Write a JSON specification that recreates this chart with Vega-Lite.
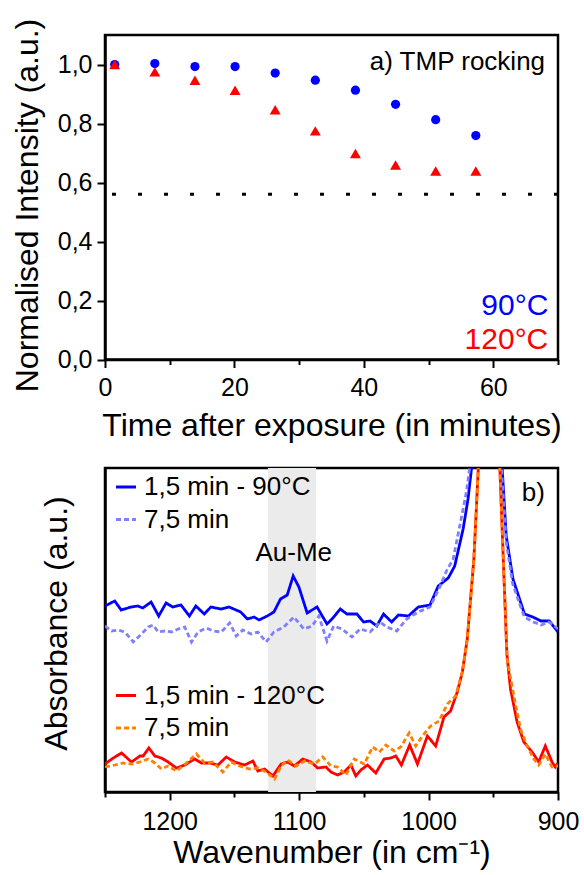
{
  "$schema": "https://vega.github.io/schema/vega-lite/v6.json",
  "background": "white",
  "padding": {"left": 10, "top": 17, "right": 0, "bottom": 0},
  "config": {
    "font": "Liberation Sans",
    "view": {"stroke": "black", "strokeWidth": 2.5},
    "axis": {
      "domainColor": "black", "domainWidth": 2.5, "tickColor": "black", "tickWidth": 2, "tickSize": 8,
      "labelFont": "Liberation Sans", "labelFontSize": 25, "labelColor": "black",
      "titleFont": "Liberation Sans", "titleFontSize": 32, "titleFontWeight": "normal", "titleColor": "black",
      "grid": false, "labelFlush": false, "labelOverlap": false
    },
    "legend": {
      "labelFont": "Liberation Sans", "labelFontSize": 26, "labelColor": "black", "labelLimit": 400,
      "symbolStrokeWidth": 3, "symbolSize": 400, "rowPadding": 6.5, "padding": 0, "labelOffset": 5,
      "symbolType": "stroke"
    },
    "concat": {"spacing": 23}
  },
  "vconcat": [
    {
      "width": 453,
      "height": 324.5,
      "layer": [
        {
          "data": {"name": "scatter"},
          "transform": [{"filter": "datum.temp === '90°C'"}],
          "mark": {"type": "point", "filled": true, "opacity": 1, "size": 85, "shape": "circle"},
          "encoding": {
            "x": {
              "field": "t", "type": "quantitative",
              "scale": {"domain": [0, 70], "nice": false, "zero": false},
              "axis": {
                "title": "Time after exposure (in minutes)",
                "values": [0, 10, 20, 30, 40, 50, 60, 70],
                "labelExpr": "datum.value % 20 === 0 ? datum.label : ''",
                "tickSize": {"condition": {"test": "datum.value % 20 !== 0", "value": 5}, "value": 8},
                "labelFontSize": 25,
                "labelPadding": 8,
                "titleY": 75.7, "titleBaseline": "alphabetic"
              }
            },
            "y": {
              "field": "v", "type": "quantitative",
              "scale": {"domain": [0, 1.1], "nice": false, "zero": false},
              "axis": {
                "title": "Normalised Intensity (a.u.)",
                "values": [0, 0.1, 0.2, 0.3, 0.4, 0.5, 0.6, 0.7, 0.8, 0.9, 1.0, 1.1],
                "labelExpr": "round(datum.value*10) % 2 === 0 ? replace(format(datum.value, '.1f'), '.', ',') : ''",
                "tickSize": {"condition": {"test": "round(datum.value*10) % 2 !== 0", "value": 5}, "value": 8},
                "labelFontSize": 25,
                "labelPadding": 5,
                "titleX": -67.7, "titleY": 170, "titleBaseline": "alphabetic"
              }
            },
            "color": {"field": "temp", "type": "nominal", "scale": {"domain": ["90°C", "120°C"], "range": ["#0000ff", "#ff0000"]}, "legend": null}
          }
        },
        {
          "data": {"name": "scatter"},
          "transform": [{"filter": "datum.temp === '120°C'"}],
          "mark": {"type": "point", "filled": true, "opacity": 1, "size": 120, "shape": "triangle-up"},
          "encoding": {
            "x": {"field": "t", "type": "quantitative"},
            "y": {"field": "v", "type": "quantitative"},
            "color": {"field": "temp", "type": "nominal", "scale": {"domain": ["90°C", "120°C"], "range": ["#0000ff", "#ff0000"]}, "legend": null}
          }
        },
        {
          "data": {"values": [{}]},
          "mark": {"type": "rule", "strokeDash": [4, 22], "strokeWidth": 3, "color": "black"},
          "encoding": {"y": {"datum": 0.56}}
        },
        {
          "data": {"values": [{}]},
          "mark": {"type": "text", "align": "right", "baseline": "alphabetic", "fontSize": 26, "color": "black"},
          "encoding": {"x": {"datum": 68}, "y": {"datum": 0.981}, "text": {"value": "a) TMP rocking"}}
        },
        {
          "data": {"values": [{}]},
          "mark": {"type": "text", "align": "right", "baseline": "alphabetic", "fontSize": 30, "color": "#0000ff"},
          "encoding": {"x": {"datum": 68.5}, "y": {"datum": 0.15}, "text": {"value": "90°C"}}
        },
        {
          "data": {"values": [{}]},
          "mark": {"type": "text", "align": "right", "baseline": "alphabetic", "fontSize": 30, "color": "#ff0000"},
          "encoding": {"x": {"datum": 68.5}, "y": {"datum": 0.034}, "text": {"value": "120°C"}}
        }
      ]
    },
    {
      "width": 453,
      "height": 324,
      "encoding": {
        "x": {
          "type": "quantitative",
          "scale": {"domain": [900, 1250], "reverse": true, "nice": false, "zero": false},
          "axis": {
            "title": "Wavenumber (in cm⁻¹)",
            "values": [900, 950, 1000, 1050, 1100, 1150, 1200, 1250],
            "labelExpr": "datum.value % 100 === 0 ? format(datum.value, 'd') : ''",
            "tickSize": {"condition": {"test": "datum.value % 100 !== 0", "value": 5}, "value": 8},
            "labelFontSize": 25,
            "labelPadding": 9,
            "titleY": 70.3, "titleBaseline": "alphabetic"
          }
        },
        "y": {
          "type": "quantitative",
          "scale": {"domain": [0, 324], "nice": false, "zero": false},
          "axis": {
            "title": "Absorbance (a.u.)", "ticks": false, "labels": false,
            "titleX": -38.7, "titleY": 155, "titleBaseline": "alphabetic"
          }
        }
      },
      "layer": [
        {
          "data": {"values": [{}]},
          "mark": {"type": "rect", "color": "#ebebeb"},
          "encoding": {"x": {"datum": 1124}, "x2": {"datum": 1087}}
        },
        {
          "data": {"name": "spec90"},
          "mark": {"type": "line", "strokeWidth": 2.8, "clip": true},
          "encoding": {
            "x": {"field": "wn", "type": "quantitative"},
            "y": {"field": "a", "type": "quantitative"},
            "color": {"field": "series", "type": "nominal",
              "scale": {"domain": ["1,5 min - 90°C", "7,5 min"], "range": ["#0000ff", "#8080ff"]},
              "legend": {"title": null, "orient": "none", "legendX": 8, "legendY": 6, "labelFontSize": 26, "labelLimit": 400}},
            "strokeDash": {"field": "series", "type": "nominal",
              "scale": {"domain": ["1,5 min - 90°C", "7,5 min"], "range": [[1, 0], [5, 3]]},
              "legend": {"title": null, "orient": "none", "legendX": 8, "legendY": 6, "labelFontSize": 26, "labelLimit": 400}}
          }
        },
        {
          "data": {"name": "spec120"},
          "mark": {"type": "line", "strokeWidth": 2.8, "clip": true},
          "encoding": {
            "x": {"field": "wn", "type": "quantitative"},
            "y": {"field": "a", "type": "quantitative"},
            "color": {"field": "series", "type": "nominal",
              "scale": {"domain": ["1,5 min - 120°C", "7,5 min"], "range": ["#ff0000", "#ff8000"]},
              "legend": {"title": null, "orient": "none", "legendX": 8, "legendY": 214.5, "labelFontSize": 26, "labelLimit": 400}},
            "strokeDash": {"field": "series", "type": "nominal",
              "scale": {"domain": ["1,5 min - 120°C", "7,5 min"], "range": [[1, 0], [5, 3]]},
              "legend": {"title": null, "orient": "none", "legendX": 8, "legendY": 214.5, "labelFontSize": 26, "labelLimit": 400}}
          }
        },
        {
          "data": {"values": [{}]},
          "mark": {"type": "text", "align": "center", "baseline": "alphabetic", "fontSize": 26, "color": "black"},
          "encoding": {"x": {"datum": 1104.2}, "y": {"datum": 231.3}, "text": {"value": "Au-Me"}}
        },
        {
          "data": {"values": [{}]},
          "mark": {"type": "text", "align": "left", "baseline": "alphabetic", "fontSize": 26, "color": "black"},
          "encoding": {"x": {"datum": 928}, "y": {"datum": 291.3}, "text": {"value": "b)"}}
        }
      ],
      "resolve": {
        "scale": {"color": "independent", "strokeDash": "independent"},
        "legend": {"color": "independent", "strokeDash": "independent"}
      }
    }
  ],
  "datasets": {
    "scatter": [
      {"temp": "90°C", "t": 1.5, "v": 1.0},
      {"temp": "90°C", "t": 7.7, "v": 1.003},
      {"temp": "90°C", "t": 13.9, "v": 0.993},
      {"temp": "90°C", "t": 20.1, "v": 0.993},
      {"temp": "90°C", "t": 26.3, "v": 0.971},
      {"temp": "90°C", "t": 32.5, "v": 0.947},
      {"temp": "90°C", "t": 38.7, "v": 0.913},
      {"temp": "90°C", "t": 44.9, "v": 0.865},
      {"temp": "90°C", "t": 51.1, "v": 0.813},
      {"temp": "90°C", "t": 57.3, "v": 0.759},
      {"temp": "120°C", "t": 1.5, "v": 1.0},
      {"temp": "120°C", "t": 7.7, "v": 0.975},
      {"temp": "120°C", "t": 13.9, "v": 0.947},
      {"temp": "120°C", "t": 20.1, "v": 0.913},
      {"temp": "120°C", "t": 26.3, "v": 0.847},
      {"temp": "120°C", "t": 32.5, "v": 0.775},
      {"temp": "120°C", "t": 38.7, "v": 0.698},
      {"temp": "120°C", "t": 44.9, "v": 0.659},
      {"temp": "120°C", "t": 51.1, "v": 0.639},
      {"temp": "120°C", "t": 57.3, "v": 0.639}
    ],
    "spec90": [
      {"series": "1,5 min - 90°C", "wn": 1250, "a": 186},
      {"series": "1,5 min - 90°C", "wn": 1242.5, "a": 191},
      {"series": "1,5 min - 90°C", "wn": 1237.5, "a": 182},
      {"series": "1,5 min - 90°C", "wn": 1229.8, "a": 185},
      {"series": "1,5 min - 90°C", "wn": 1224.6, "a": 186},
      {"series": "1,5 min - 90°C", "wn": 1220.8, "a": 184},
      {"series": "1,5 min - 90°C", "wn": 1214.4, "a": 190},
      {"series": "1,5 min - 90°C", "wn": 1208.5, "a": 176},
      {"series": "1,5 min - 90°C", "wn": 1202.8, "a": 189},
      {"series": "1,5 min - 90°C", "wn": 1197.7, "a": 185},
      {"series": "1,5 min - 90°C", "wn": 1191.3, "a": 187},
      {"series": "1,5 min - 90°C", "wn": 1184.8, "a": 176},
      {"series": "1,5 min - 90°C", "wn": 1179.8, "a": 186},
      {"series": "1,5 min - 90°C", "wn": 1173.3, "a": 178},
      {"series": "1,5 min - 90°C", "wn": 1168.2, "a": 185},
      {"series": "1,5 min - 90°C", "wn": 1160.5, "a": 183},
      {"series": "1,5 min - 90°C", "wn": 1154.1, "a": 185},
      {"series": "1,5 min - 90°C", "wn": 1145.2, "a": 180},
      {"series": "1,5 min - 90°C", "wn": 1140, "a": 173},
      {"series": "1,5 min - 90°C", "wn": 1134.8, "a": 175},
      {"series": "1,5 min - 90°C", "wn": 1131, "a": 172},
      {"series": "1,5 min - 90°C", "wn": 1124.6, "a": 176},
      {"series": "1,5 min - 90°C", "wn": 1119.5, "a": 180},
      {"series": "1,5 min - 90°C", "wn": 1114.4, "a": 193},
      {"series": "1,5 min - 90°C", "wn": 1109.2, "a": 197},
      {"series": "1,5 min - 90°C", "wn": 1104.6, "a": 216},
      {"series": "1,5 min - 90°C", "wn": 1100.2, "a": 205},
      {"series": "1,5 min - 90°C", "wn": 1093.8, "a": 179},
      {"series": "1,5 min - 90°C", "wn": 1086.2, "a": 185},
      {"series": "1,5 min - 90°C", "wn": 1078.5, "a": 168},
      {"series": "1,5 min - 90°C", "wn": 1074.6, "a": 173},
      {"series": "1,5 min - 90°C", "wn": 1068.2, "a": 183},
      {"series": "1,5 min - 90°C", "wn": 1063.1, "a": 178},
      {"series": "1,5 min - 90°C", "wn": 1055.4, "a": 178},
      {"series": "1,5 min - 90°C", "wn": 1050.2, "a": 170},
      {"series": "1,5 min - 90°C", "wn": 1045.2, "a": 171},
      {"series": "1,5 min - 90°C", "wn": 1040, "a": 166},
      {"series": "1,5 min - 90°C", "wn": 1034.8, "a": 178},
      {"series": "1,5 min - 90°C", "wn": 1028.5, "a": 170},
      {"series": "1,5 min - 90°C", "wn": 1023.3, "a": 177},
      {"series": "1,5 min - 90°C", "wn": 1015.6, "a": 176},
      {"series": "1,5 min - 90°C", "wn": 1007.9, "a": 185},
      {"series": "1,5 min - 90°C", "wn": 998.9, "a": 187},
      {"series": "1,5 min - 90°C", "wn": 992.5, "a": 206},
      {"series": "1,5 min - 90°C", "wn": 984.8, "a": 214},
      {"series": "1,5 min - 90°C", "wn": 979.8, "a": 226},
      {"series": "1,5 min - 90°C", "wn": 973.3, "a": 263},
      {"series": "1,5 min - 90°C", "wn": 969.5, "a": 293},
      {"series": "1,5 min - 90°C", "wn": 966.9, "a": 323},
      {"series": "1,5 min - 90°C", "wn": 955, "a": 620},
      {"series": "1,5 min - 90°C", "wn": 943.1, "a": 323},
      {"series": "1,5 min - 90°C", "wn": 940, "a": 256},
      {"series": "1,5 min - 90°C", "wn": 934.8, "a": 213},
      {"series": "1,5 min - 90°C", "wn": 925.9, "a": 178},
      {"series": "1,5 min - 90°C", "wn": 919.5, "a": 175},
      {"series": "1,5 min - 90°C", "wn": 913.1, "a": 171},
      {"series": "1,5 min - 90°C", "wn": 906.7, "a": 171},
      {"series": "1,5 min - 90°C", "wn": 900, "a": 160},
      {"series": "7,5 min", "wn": 1250, "a": 166},
      {"series": "7,5 min", "wn": 1244.9, "a": 161},
      {"series": "7,5 min", "wn": 1239.8, "a": 162},
      {"series": "7,5 min", "wn": 1234.6, "a": 160},
      {"series": "7,5 min", "wn": 1228.2, "a": 150},
      {"series": "7,5 min", "wn": 1221.8, "a": 158},
      {"series": "7,5 min", "wn": 1216.6, "a": 165},
      {"series": "7,5 min", "wn": 1212.8, "a": 167},
      {"series": "7,5 min", "wn": 1208.9, "a": 160},
      {"series": "7,5 min", "wn": 1203.8, "a": 161},
      {"series": "7,5 min", "wn": 1198.7, "a": 160},
      {"series": "7,5 min", "wn": 1193.5, "a": 163},
      {"series": "7,5 min", "wn": 1188.4, "a": 165},
      {"series": "7,5 min", "wn": 1183.2, "a": 150},
      {"series": "7,5 min", "wn": 1178.1, "a": 160},
      {"series": "7,5 min", "wn": 1171.7, "a": 164},
      {"series": "7,5 min", "wn": 1166.5, "a": 161},
      {"series": "7,5 min", "wn": 1160.2, "a": 160},
      {"series": "7,5 min", "wn": 1153.7, "a": 169},
      {"series": "7,5 min", "wn": 1148.6, "a": 156},
      {"series": "7,5 min", "wn": 1143.5, "a": 162},
      {"series": "7,5 min", "wn": 1137.1, "a": 158},
      {"series": "7,5 min", "wn": 1131.9, "a": 160},
      {"series": "7,5 min", "wn": 1125.5, "a": 150},
      {"series": "7,5 min", "wn": 1119.5, "a": 160},
      {"series": "7,5 min", "wn": 1111.8, "a": 165},
      {"series": "7,5 min", "wn": 1104.1, "a": 175},
      {"series": "7,5 min", "wn": 1096.4, "a": 163},
      {"series": "7,5 min", "wn": 1090, "a": 166},
      {"series": "7,5 min", "wn": 1084.8, "a": 176},
      {"series": "7,5 min", "wn": 1078.5, "a": 151},
      {"series": "7,5 min", "wn": 1073.3, "a": 166},
      {"series": "7,5 min", "wn": 1066.9, "a": 163},
      {"series": "7,5 min", "wn": 1059.2, "a": 155},
      {"series": "7,5 min", "wn": 1052.8, "a": 163},
      {"series": "7,5 min", "wn": 1045.2, "a": 160},
      {"series": "7,5 min", "wn": 1037.5, "a": 170},
      {"series": "7,5 min", "wn": 1032.3, "a": 165},
      {"series": "7,5 min", "wn": 1024.6, "a": 161},
      {"series": "7,5 min", "wn": 1016.9, "a": 173},
      {"series": "7,5 min", "wn": 1007.9, "a": 180},
      {"series": "7,5 min", "wn": 998.9, "a": 185},
      {"series": "7,5 min", "wn": 991.3, "a": 205},
      {"series": "7,5 min", "wn": 986.2, "a": 221},
      {"series": "7,5 min", "wn": 981, "a": 233},
      {"series": "7,5 min", "wn": 973.3, "a": 283},
      {"series": "7,5 min", "wn": 970.8, "a": 300},
      {"series": "7,5 min", "wn": 966, "a": 345},
      {"series": "7,5 min", "wn": 955, "a": 620},
      {"series": "7,5 min", "wn": 944, "a": 330},
      {"series": "7,5 min", "wn": 940, "a": 250},
      {"series": "7,5 min", "wn": 935, "a": 208},
      {"series": "7,5 min", "wn": 926, "a": 175},
      {"series": "7,5 min", "wn": 919, "a": 170},
      {"series": "7,5 min", "wn": 913, "a": 167},
      {"series": "7,5 min", "wn": 907, "a": 170},
      {"series": "7,5 min", "wn": 900, "a": 163}
    ],
    "spec120": [
      {"series": "1,5 min - 120°C", "wn": 1250, "a": 28},
      {"series": "1,5 min - 120°C", "wn": 1243.6, "a": 34},
      {"series": "1,5 min - 120°C", "wn": 1237.2, "a": 39},
      {"series": "1,5 min - 120°C", "wn": 1229.5, "a": 30},
      {"series": "1,5 min - 120°C", "wn": 1223, "a": 36},
      {"series": "1,5 min - 120°C", "wn": 1220.5, "a": 36},
      {"series": "1,5 min - 120°C", "wn": 1216.1, "a": 44},
      {"series": "1,5 min - 120°C", "wn": 1211.5, "a": 36},
      {"series": "1,5 min - 120°C", "wn": 1206.4, "a": 34},
      {"series": "1,5 min - 120°C", "wn": 1201.2, "a": 30},
      {"series": "1,5 min - 120°C", "wn": 1194.8, "a": 24},
      {"series": "1,5 min - 120°C", "wn": 1188.4, "a": 27},
      {"series": "1,5 min - 120°C", "wn": 1180.7, "a": 33},
      {"series": "1,5 min - 120°C", "wn": 1175.6, "a": 29},
      {"series": "1,5 min - 120°C", "wn": 1169.1, "a": 29},
      {"series": "1,5 min - 120°C", "wn": 1162.7, "a": 27},
      {"series": "1,5 min - 120°C", "wn": 1156.3, "a": 35},
      {"series": "1,5 min - 120°C", "wn": 1149.8, "a": 30},
      {"series": "1,5 min - 120°C", "wn": 1142.1, "a": 27},
      {"series": "1,5 min - 120°C", "wn": 1135.7, "a": 31},
      {"series": "1,5 min - 120°C", "wn": 1131.9, "a": 21},
      {"series": "1,5 min - 120°C", "wn": 1126.7, "a": 23},
      {"series": "1,5 min - 120°C", "wn": 1120.3, "a": 16},
      {"series": "1,5 min - 120°C", "wn": 1113.9, "a": 28},
      {"series": "1,5 min - 120°C", "wn": 1108.8, "a": 30},
      {"series": "1,5 min - 120°C", "wn": 1103.6, "a": 26},
      {"series": "1,5 min - 120°C", "wn": 1097.2, "a": 33},
      {"series": "1,5 min - 120°C", "wn": 1090.8, "a": 30},
      {"series": "1,5 min - 120°C", "wn": 1085.7, "a": 24},
      {"series": "1,5 min - 120°C", "wn": 1079.3, "a": 25},
      {"series": "1,5 min - 120°C", "wn": 1075.4, "a": 20},
      {"series": "1,5 min - 120°C", "wn": 1070.3, "a": 17},
      {"series": "1,5 min - 120°C", "wn": 1065.1, "a": 20},
      {"series": "1,5 min - 120°C", "wn": 1060, "a": 27},
      {"series": "1,5 min - 120°C", "wn": 1056.2, "a": 16},
      {"series": "1,5 min - 120°C", "wn": 1052.3, "a": 22},
      {"series": "1,5 min - 120°C", "wn": 1047.2, "a": 27},
      {"series": "1,5 min - 120°C", "wn": 1040.8, "a": 19},
      {"series": "1,5 min - 120°C", "wn": 1034.3, "a": 33},
      {"series": "1,5 min - 120°C", "wn": 1029.2, "a": 34},
      {"series": "1,5 min - 120°C", "wn": 1025.3, "a": 36},
      {"series": "1,5 min - 120°C", "wn": 1021, "a": 27},
      {"series": "1,5 min - 120°C", "wn": 1014.6, "a": 47},
      {"series": "1,5 min - 120°C", "wn": 1008.6, "a": 28},
      {"series": "1,5 min - 120°C", "wn": 1000.9, "a": 56},
      {"series": "1,5 min - 120°C", "wn": 994.5, "a": 46},
      {"series": "1,5 min - 120°C", "wn": 988.1, "a": 75},
      {"series": "1,5 min - 120°C", "wn": 983, "a": 81},
      {"series": "1,5 min - 120°C", "wn": 977.8, "a": 100},
      {"series": "1,5 min - 120°C", "wn": 973.9, "a": 120},
      {"series": "1,5 min - 120°C", "wn": 970.1, "a": 153},
      {"series": "1,5 min - 120°C", "wn": 965, "a": 233},
      {"series": "1,5 min - 120°C", "wn": 961.6, "a": 323},
      {"series": "1,5 min - 120°C", "wn": 954, "a": 700},
      {"series": "1,5 min - 120°C", "wn": 944.9, "a": 323},
      {"series": "1,5 min - 120°C", "wn": 939.5, "a": 138},
      {"series": "1,5 min - 120°C", "wn": 936.7, "a": 103},
      {"series": "1,5 min - 120°C", "wn": 931.6, "a": 70},
      {"series": "1,5 min - 120°C", "wn": 926.4, "a": 50},
      {"series": "1,5 min - 120°C", "wn": 920, "a": 40},
      {"series": "1,5 min - 120°C", "wn": 914.9, "a": 30},
      {"series": "1,5 min - 120°C", "wn": 909.8, "a": 46},
      {"series": "1,5 min - 120°C", "wn": 904.6, "a": 30},
      {"series": "1,5 min - 120°C", "wn": 902.1, "a": 25},
      {"series": "1,5 min - 120°C", "wn": 900, "a": 29},
      {"series": "7,5 min", "wn": 1250, "a": 25},
      {"series": "7,5 min", "wn": 1242.3, "a": 27},
      {"series": "7,5 min", "wn": 1235.9, "a": 29},
      {"series": "7,5 min", "wn": 1229.5, "a": 28},
      {"series": "7,5 min", "wn": 1223, "a": 30},
      {"series": "7,5 min", "wn": 1216.6, "a": 33},
      {"series": "7,5 min", "wn": 1211.5, "a": 29},
      {"series": "7,5 min", "wn": 1206.4, "a": 23},
      {"series": "7,5 min", "wn": 1201.2, "a": 26},
      {"series": "7,5 min", "wn": 1194.8, "a": 21},
      {"series": "7,5 min", "wn": 1187.1, "a": 29},
      {"series": "7,5 min", "wn": 1179.4, "a": 38},
      {"series": "7,5 min", "wn": 1173, "a": 29},
      {"series": "7,5 min", "wn": 1166.6, "a": 30},
      {"series": "7,5 min", "wn": 1158.9, "a": 20},
      {"series": "7,5 min", "wn": 1152.5, "a": 30},
      {"series": "7,5 min", "wn": 1146, "a": 26},
      {"series": "7,5 min", "wn": 1138.3, "a": 23},
      {"series": "7,5 min", "wn": 1131.9, "a": 24},
      {"series": "7,5 min", "wn": 1125.5, "a": 20},
      {"series": "7,5 min", "wn": 1119, "a": 13},
      {"series": "7,5 min", "wn": 1113.9, "a": 26},
      {"series": "7,5 min", "wn": 1108.8, "a": 32},
      {"series": "7,5 min", "wn": 1102.4, "a": 26},
      {"series": "7,5 min", "wn": 1095.9, "a": 31},
      {"series": "7,5 min", "wn": 1088.2, "a": 28},
      {"series": "7,5 min", "wn": 1081.8, "a": 35},
      {"series": "7,5 min", "wn": 1075.4, "a": 26},
      {"series": "7,5 min", "wn": 1070.3, "a": 25},
      {"series": "7,5 min", "wn": 1063.9, "a": 17},
      {"series": "7,5 min", "wn": 1057.4, "a": 33},
      {"series": "7,5 min", "wn": 1049.7, "a": 28},
      {"series": "7,5 min", "wn": 1043.3, "a": 45},
      {"series": "7,5 min", "wn": 1038.1, "a": 40},
      {"series": "7,5 min", "wn": 1033, "a": 47},
      {"series": "7,5 min", "wn": 1026.6, "a": 41},
      {"series": "7,5 min", "wn": 1021.5, "a": 45},
      {"series": "7,5 min", "wn": 1015, "a": 59},
      {"series": "7,5 min", "wn": 1009.9, "a": 46},
      {"series": "7,5 min", "wn": 1004.8, "a": 56},
      {"series": "7,5 min", "wn": 998.4, "a": 66},
      {"series": "7,5 min", "wn": 991.9, "a": 71},
      {"series": "7,5 min", "wn": 985.5, "a": 88},
      {"series": "7,5 min", "wn": 979.1, "a": 96},
      {"series": "7,5 min", "wn": 973.9, "a": 120},
      {"series": "7,5 min", "wn": 970.1, "a": 153},
      {"series": "7,5 min", "wn": 965, "a": 233},
      {"series": "7,5 min", "wn": 961.6, "a": 323},
      {"series": "7,5 min", "wn": 954, "a": 700},
      {"series": "7,5 min", "wn": 944.9, "a": 323},
      {"series": "7,5 min", "wn": 939.3, "a": 133},
      {"series": "7,5 min", "wn": 934.1, "a": 96},
      {"series": "7,5 min", "wn": 929, "a": 63},
      {"series": "7,5 min", "wn": 923.9, "a": 46},
      {"series": "7,5 min", "wn": 918.7, "a": 33},
      {"series": "7,5 min", "wn": 914.9, "a": 27},
      {"series": "7,5 min", "wn": 909.8, "a": 38},
      {"series": "7,5 min", "wn": 904.6, "a": 25},
      {"series": "7,5 min", "wn": 900, "a": 26}
    ]
  }
}
